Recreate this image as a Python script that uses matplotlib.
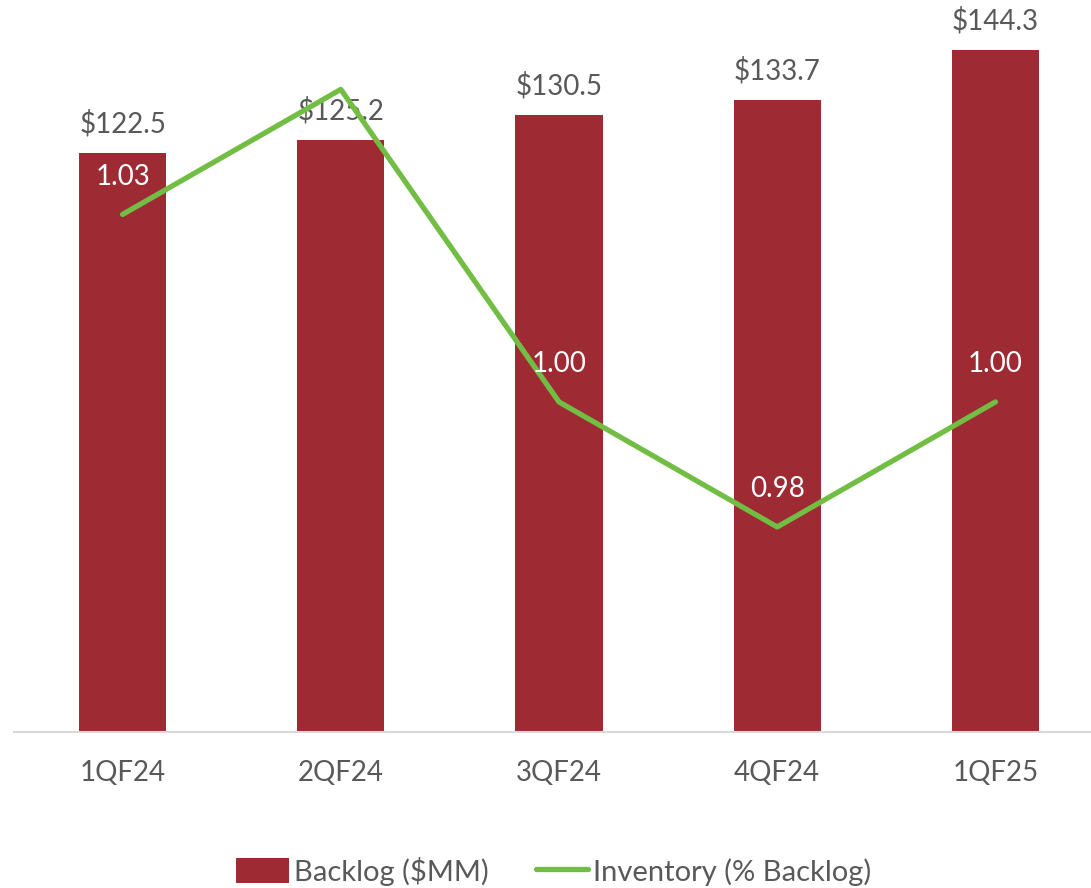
import matplotlib
matplotlib.use("Agg")
import matplotlib.pyplot as plt
from matplotlib.patches import Patch
from matplotlib.lines import Line2D

quarters = ["1QF24", "2QF24", "3QF24", "4QF24", "1QF25"]
backlog = [122.5, 125.2, 130.5, 133.7, 144.3]
inventory = [1.03, 1.05, 1.00, 0.98, 1.00]
# the 2QF24 line label is white on white in the original, so it cannot be seen
inv_label_color = ["white", "white", "white", "white", "white"]

bar_color = "#9E2A34"
line_color = "#72BE44"
text_color = "#595959"

plt.rcParams["font.family"] = ["Lato", "DejaVu Sans"]

fig = plt.figure(figsize=(10.91, 8.88), dpi=100)
ax = fig.add_axes([13.5 / 1091, 156 / 888, 1077.5 / 1091, 732 / 888])
x = list(range(len(quarters)))

ax.bar(x, backlog, width=0.4, color=bar_color, zorder=2)
ax.set_xlim(-0.5, 4.438)
ax.set_ylim(0, 154.9)
for i, v in zip(x, backlog):
    ax.annotate("${:.1f}".format(v), (i, v), xytext=(0, 21), textcoords="offset points",
                ha="center", va="center", fontsize=20, color=text_color)

ax.set_yticks([])
for s in ["top", "right", "left"]:
    ax.spines[s].set_visible(False)
ax.spines["bottom"].set_color("#D9D9D9")
ax.spines["bottom"].set_linewidth(1.5)
ax.set_xticks(x)
ax.set_xticklabels(quarters, fontsize=20, color=text_color)
ax.tick_params(axis="x", length=0, pad=20)

ax2 = ax.twinx()
ax2.plot(x, inventory, color=line_color, linewidth=3.8, solid_capstyle="round", zorder=3)
ax2.set_ylim(0.9472, 1.0643)
ax2.set_yticks([])
for s in ax2.spines.values():
    s.set_visible(False)
for i, v, c in zip(x, inventory, inv_label_color):
    ax2.annotate("{:.2f}".format(v), (i, v), xytext=(0, 27), textcoords="offset points",
                 ha="center", va="center", fontsize=20, color=c)

handles = [Patch(facecolor=bar_color, label="Backlog ($MM)"),
           Line2D([0], [0], color=line_color, linewidth=3.8, solid_capstyle="round",
                  label="Inventory (% Backlog)")]
fig.legend(handles=handles, loc="center", bbox_to_anchor=(554 / 1091, 17 / 888), ncol=2,
           frameon=False, fontsize=21, labelcolor=text_color, handlelength=1.8,
           handleheight=0.9, handletextpad=0.18, columnspacing=1.6)

fig.savefig("out.png", dpi=100)
